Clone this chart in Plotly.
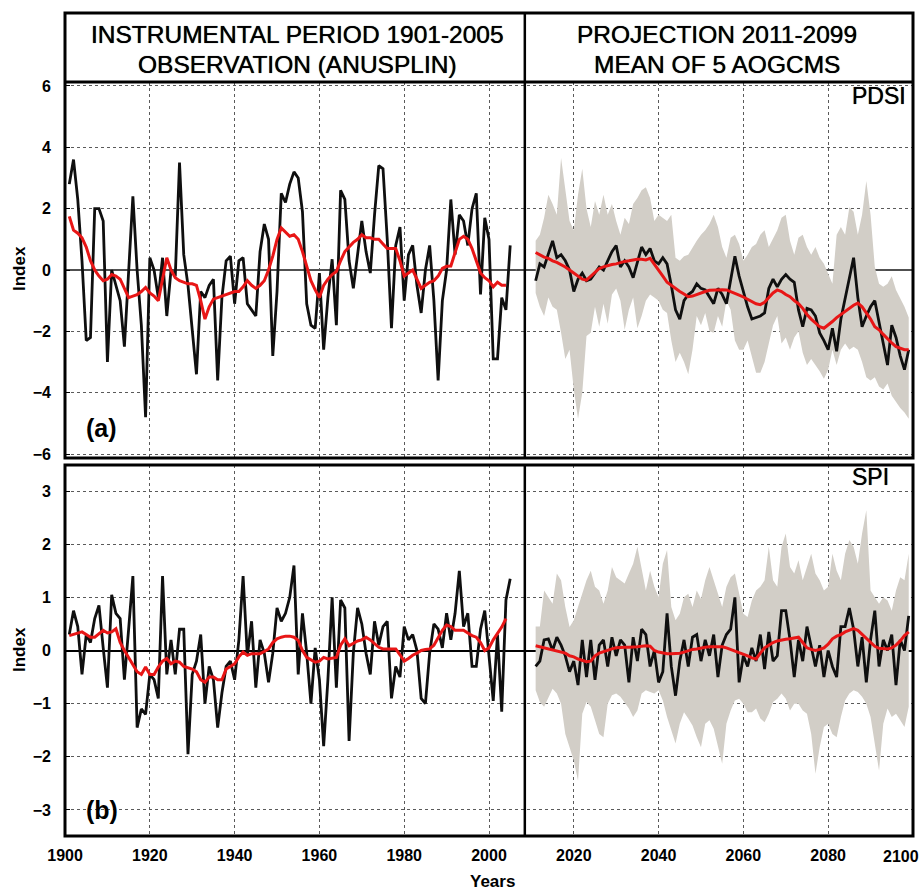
import plotly.graph_objects as go

W, H = 921, 891

# ---------------- data ----------------
years_obs = list(range(1901, 2006))
years_proj = list(range(2011, 2100))

pdsi_obs = [2.8, 3.6, 2.3, 0.3, -2.3, -2.2, 2.0, 2.0, 1.6, -3.0,
            0.0, -0.5, -1.0, -2.5, 0.0, 2.4, 0.0, -1.8, -4.8, 0.4,
            0.0, -0.9, 0.4, -1.5, 0.0, -0.2, 3.5, 0.5, -0.5, -2.0,
            -3.4, -0.7, -0.9, -0.5, -0.3, -3.6, -0.9, 0.3, 0.45, -1.1,
            0.3, 0.4, -1.1, -1.3, -1.5, 0.6, 1.5, 1.0, -2.8, -0.7,
            2.5, 2.2, 2.8, 3.2, 3.0, 1.9, -1.1, -1.8, -1.9, -0.1,
            -2.6, -0.9, 0.35, -1.8, 2.6, 2.3, 0.3, -0.6, 0.5, 1.6,
            0.6, -0.1, 1.8, 3.4, 3.3, 1.0, -1.9, 0.8, 1.4, -1.0,
            0.5, 0.8, -0.5, -1.4, 0.0, 0.8, -1.0, -3.6, -1.0, 0.0,
            2.3, 0.5, 1.8, 1.6, 0.8, 2.0, 2.5, -0.8, 1.7, 1.0,
            -2.9, -2.9, -0.9, -1.3, 0.8]
pdsi_obs_smooth = [1.75, 1.3, 1.2, 1.05, 0.75, 0.3, 0.0, -0.2, -0.35, -0.3,
                   -0.15, -0.2, -0.3, -0.6, -0.9, -0.85, -0.8, -0.7, -0.57, -0.75,
                   -0.85, -1.0, -0.3, 0.4, 0.0, -0.25, -0.35, -0.4, -0.45, -0.45,
                   -0.5, -1.0, -1.6, -1.2, -0.95, -0.9, -0.85, -0.8, -0.75, -0.7,
                   -0.7, -0.55, -0.35, -0.5, -0.6, -0.5, -0.35, 0.0, 0.45, 1.0,
                   1.37, 1.25, 1.1, 1.15, 1.0, 0.6, 0.1, -0.35, -0.65, -0.9,
                   -0.5, -0.3, -0.15, -0.05, 0.3, 0.6, 0.75, 0.9, 1.0, 1.15,
                   1.05, 1.05, 1.0, 1.0, 0.85, 0.7, 0.7, 0.7, 0.3, -0.2,
                   -0.1, 0.0, -0.3, -0.6, -0.5, -0.4, -0.35, -0.2, 0.05, 0.12,
                   0.13, 0.6, 1.0, 1.1, 1.0, 0.7, 0.3, -0.1, -0.25, -0.35,
                   -0.55, -0.4, -0.5, -0.5]

pdsi_proj = [-0.35, 0.2, 0.1, 0.5, 0.95, 0.4, 0.5, 0.3, 0.0, -0.7,
             -0.3, -0.1, -0.35, -0.3, -0.1, 0.1, 0.0, 0.3, 0.6, 0.8,
             0.1, 0.3, 0.1, -0.25, 0.3, 0.75, 0.5, 0.7, 0.3, 0.2,
             0.4, 0.2, -0.5, -1.3, -1.6, -1.0, -0.8, -0.7, -0.45, -0.6,
             -0.65, -0.9, -1.1, -0.6, -0.8, -1.1, -0.3, 0.45, -0.2, -0.75,
             -1.2, -1.6, -1.55, -1.5, -1.4, -0.6, -0.3, -0.55, -0.3, -0.15,
             -0.3, -0.4, -1.3, -1.85, -1.25, -1.3, -1.5, -2.05, -2.3, -2.6,
             -1.9, -2.65, -1.6, -0.9, -0.2, 0.4, -0.9, -1.85, -1.5, -1.2,
             -1.0, -1.7, -2.4, -3.1, -1.8, -2.2, -2.8, -3.25, -2.6]
pdsi_proj_smooth = [0.57, 0.5, 0.42, 0.38, 0.3, 0.25, 0.18, 0.1, 0.0, -0.1,
                    -0.2, -0.3, -0.33, -0.2, -0.05, 0.05, 0.1, 0.15, 0.18, 0.2,
                    0.25, 0.28, 0.3, 0.33, 0.35, 0.35, 0.33, 0.38, 0.2, 0.0,
                    -0.2, -0.4, -0.5, -0.62, -0.7, -0.78, -0.87, -0.85, -0.8, -0.73,
                    -0.7, -0.66, -0.65, -0.63, -0.64, -0.65, -0.7, -0.75, -0.82, -0.88,
                    -0.95, -1.03, -1.1, -1.13, -1.05, -0.9, -0.75, -0.65, -0.7, -0.8,
                    -0.87, -1.0, -1.1, -1.25, -1.45, -1.6, -1.72, -1.85, -1.9, -1.8,
                    -1.68, -1.55, -1.45, -1.35, -1.25, -1.15, -1.08, -1.2, -1.4, -1.6,
                    -1.85, -1.95, -2.1, -2.25, -2.38, -2.5, -2.55, -2.6, -2.6]
pdsi_proj_max = [0.95, 1.15, 1.7, 2.45, 2.15, 1.8, 3.65, 2.6, 1.6, 1.3,
                 2.45, 3.3, 2.0, 1.4, 2.25, 1.8, 2.45, 1.8, 2.15, 1.6,
                 1.15, 1.7, 1.5, 2.15, 2.35, 2.6, 2.7, 2.35, 1.6, 1.8,
                 1.7, 1.6, 1.8, 0.4, 0.3, 0.45, 0.5, 0.75, 0.95, 1.15,
                 1.3, 1.5, 1.8, 1.4, 0.75, 0.4, 1.05, 1.15, 0.85, 0.3,
                 0.5, 0.75, 0.85, 1.15, 1.3, 0.75, 1.05, 1.3, 1.7, 1.8,
                 0.95, 0.5, 1.05, 1.15, 0.75, 0.5, 0.75, 0.4, 0.2, -0.15,
                 -0.45, 1.15, 1.4, 1.15, 2.05, 1.9, 1.15, 1.8, 2.9, 1.8,
                 0.1, -0.45, -0.55, -0.45, -0.2, -0.65, -0.9, -1.2, -1.55]
pdsi_proj_min = [-0.75, -1.2, -1.5, -0.9, -1.2, -1.3, -2.05, -2.9, -2.6, -3.9,
                 -4.85, -4.0, -2.15, -2.05, -1.2, -1.85, -1.1, -1.75, -0.8, -0.6,
                 -1.0, -1.95, -1.3, -0.9, -1.9, -1.5, -1.0, -0.8, -0.9, -1.0,
                 -1.3, -1.4, -2.3, -3.0, -2.7, -3.0, -3.4, -2.6, -1.5, -1.8,
                 -1.4, -2.0, -2.05, -1.5, -1.85, -1.0, -1.3, -2.3, -2.6, -2.6,
                 -2.3, -2.8, -3.35, -3.35, -3.0, -2.4, -1.8, -1.5, -2.4, -2.2,
                 -2.6, -2.2, -2.0, -2.7, -3.1, -2.9, -3.1, -3.3, -3.55, -3.25,
                 -2.6, -3.1, -2.6, -2.4, -2.6, -2.5, -2.6, -3.0, -3.5, -3.6,
                 -3.5, -3.8, -3.9, -3.7, -4.1, -4.3, -4.5, -4.65, -4.85]

spi_obs = [0.3, 0.75, 0.45, -0.45, 0.3, 0.15, 0.6, 0.85, 0.05, -0.7,
           1.05, 0.7, 0.6, -0.55, 0.4, 1.4, -1.45, -1.1, -1.2, -0.45,
           -0.55, -0.9, 1.4, -0.45, 0.2, -0.45, 0.4, 0.4, -1.95, -0.45,
           -0.2, 0.3, -1.0, -0.3, -0.55, -1.45, -0.8, -0.3, -0.2, -0.55,
           0.2, 1.4, -0.1, 0.55, -0.7, 0.2, -0.05, -0.6, -0.05, 0.8,
           0.55, 0.7, 1.0, 1.6, -0.45, 0.7, -0.05, -1.0, 0.05, -0.55,
           -1.8, -0.55, 1.0, -0.7, 0.95, 0.8, -1.7, -0.05, 0.8, 0.5,
           -0.05, -0.45, 0.55, 0.1, 0.45, 0.55, -0.9, -0.3, -0.5, 0.45,
           0.2, 0.3, 0.0, -0.9, -1.0, -0.05, 0.5, 0.4, 0.05, 0.7,
           0.2, 0.7, 1.5, 0.45, 0.7, -0.3, -0.3, 0.4, 0.75, -0.05,
           -0.95, 0.3, -1.15, 0.95, 1.35]
spi_obs_smooth = [0.28, 0.3, 0.33, 0.35, 0.3, 0.25, 0.25, 0.32, 0.38, 0.33,
                  0.35, 0.41, 0.15, 0.0, -0.13, -0.25, -0.4, -0.45, -0.31, -0.45,
                  -0.45, -0.31, -0.2, -0.15, -0.25, -0.2, -0.22, -0.3, -0.32, -0.35,
                  -0.4, -0.55, -0.6, -0.5, -0.5, -0.55, -0.55, -0.35, -0.3, -0.25,
                  -0.12, -0.03, -0.09, -0.06, -0.06, -0.06, -0.02, 0.03, 0.15, 0.22,
                  0.25, 0.27, 0.27, 0.25, 0.19, 0.0, -0.13, -0.18, -0.22, -0.2,
                  -0.13, -0.16, -0.14, -0.13, 0.1, 0.22, 0.09, 0.14, 0.18, 0.2,
                  0.25, 0.2, 0.12, 0.06, 0.03, 0.03, 0.03, 0.03, -0.08, -0.2,
                  -0.15, -0.09, -0.05, 0.0, 0.02, 0.03, 0.1, 0.25, 0.38, 0.48,
                  0.45, 0.38, 0.38, 0.38, 0.33, 0.28, 0.25, 0.15, 0.0, 0.05,
                  0.2, 0.31, 0.44, 0.6]

spi_proj = [-0.3, -0.2, 0.2, 0.22, 0.0, 0.25, 0.1, -0.1, -0.4, -0.2,
            -0.65, 0.2, -0.5, 0.2, -0.55, 0.1, 0.2, -0.3, 0.25, -0.1,
            0.2, 0.1, -0.6, 0.25, -0.2, 0.4, 0.3, -0.3, 0.0, -0.6,
            -0.4, 0.7, -0.3, -0.85, -0.2, 0.2, -0.3, 0.25, 0.3, -0.2,
            0.2, -0.1, 0.3, -0.5, 0.1, 0.3, 0.4, 1.0, -0.6, -0.1,
            -0.3, 0.05, -0.2, 0.3, -0.35, 0.35, -0.2, -0.1, 0.75, 0.75,
            0.2, -0.5, 0.2, -0.2, 0.45, 0.1, -0.3, 0.1, -0.5, 0.0,
            -0.3, -0.5, 0.45, 0.45, 0.8, 0.4, -0.3, 0.25, -0.6, 0.2,
            0.75, -0.3, 0.2, 0.0, 0.3, -0.65, 0.2, 0.0, 0.65]
spi_proj_smooth = [0.09, 0.07, 0.05, 0.03, 0.02, 0.0, -0.02, -0.05, -0.1, -0.12,
                   -0.16, -0.19, -0.21, -0.2, -0.1, -0.05, -0.02, 0.0, 0.03, 0.05,
                   0.06, 0.06, 0.06, 0.06, 0.07, 0.08, 0.09, 0.08, 0.0, -0.03,
                   -0.05, -0.06, -0.06, -0.06, -0.05, -0.03, 0.0, 0.02, 0.03, 0.05,
                   0.06, 0.07, 0.07, 0.08, 0.07, 0.05, 0.02, 0.0, -0.03, -0.06,
                   -0.1, -0.14, -0.16, -0.05, 0.05, 0.1, 0.15, 0.18, 0.2, 0.21,
                   0.22, 0.24, 0.25, 0.15, 0.05, 0.02, 0.0, 0.02, 0.05, 0.12,
                   0.22, 0.27, 0.3, 0.35, 0.38, 0.41, 0.38, 0.3, 0.22, 0.15,
                   0.08, 0.04, 0.03, 0.03, 0.05, 0.1, 0.18, 0.28, 0.35]
spi_proj_max = [0.45, 0.45, 1.13, 1.0, 0.88, 1.45, 1.32, 0.82, 0.44, 0.57,
                0.82, 1.07, 1.32, 1.5, 1.2, 1.13, 0.88, 1.13, 1.57, 1.38,
                1.32, 1.26, 1.45, 1.63, 1.95, 1.57, 1.13, 1.5, 1.2, 1.0,
                1.63, 1.89, 0.82, 0.57, 0.69, 1.0, 1.07, 0.82, 1.13, 0.97,
                1.32, 1.57, 1.32, 1.07, 0.82, 1.2, 1.38, 1.45, 1.07, 0.69,
                0.63, 0.94, 1.13, 1.2, 1.32, 1.95, 1.32, 1.2, 1.95, 2.2,
                1.57, 1.45, 1.7, 1.32, 1.57, 1.82, 1.45, 1.32, 1.13, 1.2,
                1.82, 1.5, 1.32, 1.82, 2.08, 1.95, 1.63, 2.2, 2.64, 1.13,
                1.0, 0.88, 1.0, 0.94, 0.75, 1.13, 1.38, 1.32, 1.82]
spi_proj_min = [-0.75, -0.97, -1.06, -0.9, -0.72, -0.81, -1.0, -1.57, -1.82, -2.07,
                -2.45, -1.19, -0.97, -1.06, -1.31, -1.57, -1.63, -1.0, -0.84, -0.81,
                -0.87, -0.97, -1.09, -1.25, -1.13, -0.81, -0.75, -0.78, -0.81, -0.75,
                -0.94, -1.25, -1.5, -1.75, -1.38, -1.16, -1.28, -1.41, -1.63, -1.82,
                -1.38, -1.31, -1.47, -1.82, -2.13, -1.38, -1.13, -0.94, -0.91, -1.0,
                -1.16, -1.16, -1.09, -1.28, -1.35, -1.19, -0.97, -0.91, -0.81, -0.91,
                -1.13, -1.0, -1.0, -1.13, -1.19, -1.57, -2.32, -1.82, -1.44, -1.38,
                -1.57, -1.63, -1.25, -0.94, -0.81, -0.75, -0.78, -0.87, -1.0, -1.25,
                -1.75, -2.26, -1.38, -1.09, -1.25, -1.19, -1.31, -1.44, -1.06]

x_ticks = [1900, 1920, 1940, 1960, 1980, 2000, 2020, 2040, 2060, 2080, 2100]
pdsi_ticks = [-6, -4, -2, 0, 2, 4, 6]
spi_ticks = [-3, -2, -1, 0, 1, 2, 3]
divider_year = 2008.45

header_left = ["INSTRUMENTAL PERIOD 1901-2005", "OBSERVATION (ANUSPLIN)"]
header_right = ["PROJECTION 2011-2099", "MEAN OF 5 AOGCMS"]

# ---------------- styles ----------------
FONT = "Liberation Sans, Arial, sans-serif"
BAND = "rgb(210,206,199)"
RED = "rgb(232,22,22)"
BLACK = "rgb(15,15,15)"
GRID = "rgb(90,90,90)"
HEAVY = "0px 0px 0.7px black"


def px(x):
    return x / W


def py(y):
    return 1 - y / H


fig = go.Figure()


def add_panel(xa, ya, yrs_o, obs, obs_s, yrs_p, pmin, pmax, proj, proj_s):
    fig.add_trace(go.Scatter(x=yrs_p, y=pmin, mode="lines", line=dict(width=0, color=BAND),
                             xaxis=xa, yaxis=ya, hoverinfo="skip", showlegend=False))
    fig.add_trace(go.Scatter(x=yrs_p, y=pmax, mode="lines", line=dict(width=0, color=BAND),
                             fill="tonexty", fillcolor=BAND,
                             xaxis=xa, yaxis=ya, hoverinfo="skip", showlegend=False))
    for xs, ys in ((yrs_o, obs), (yrs_p, proj)):
        fig.add_trace(go.Scatter(x=xs, y=ys, mode="lines", line=dict(width=2.8, color=BLACK),
                                 xaxis=xa, yaxis=ya, showlegend=False))
    for xs, ys in ((yrs_o[:len(obs_s)], obs_s), (yrs_p, proj_s)):
        fig.add_trace(go.Scatter(x=xs, y=ys, mode="lines", line=dict(width=3, color=RED),
                                 xaxis=xa, yaxis=ya, showlegend=False))


add_panel("x", "y", years_obs, pdsi_obs, pdsi_obs_smooth, years_proj,
          pdsi_proj_min, pdsi_proj_max, pdsi_proj, pdsi_proj_smooth)
add_panel("x2", "y2", years_obs, spi_obs, spi_obs_smooth, years_proj,
          spi_proj_min, spi_proj_max, spi_proj, spi_proj_smooth)

tickfont = dict(family=FONT, size=16, color="black", weight="bold")
xcommon = dict(range=[1899.99, 2100.01], tickvals=x_ticks[:-1], showgrid=True, gridcolor=GRID,
               griddash="dot", gridwidth=1, zeroline=False, showline=False,
               ticks="", tickfont=tickfont, domain=[px(65), px(913)], automargin=False)
fig.update_layout(
    width=W, height=H, margin=dict(l=0, r=0, t=0, b=0),
    paper_bgcolor="white", plot_bgcolor="white",
    xaxis=dict(**xcommon, anchor="y", showticklabels=False),
    xaxis2=dict(**xcommon, anchor="y2", showticklabels=True, ticklabelstandoff=8),
    yaxis=dict(range=[-6.13, 6.13], domain=[py(458), py(82)], tickvals=pdsi_ticks,
               showgrid=True, gridcolor=GRID, griddash="dot", gridwidth=1,
               zeroline=True, zerolinecolor="rgb(80,80,80)", zerolinewidth=1.5,
               ticks="inside", ticklen=5, tickcolor="black", tickfont=tickfont,
               ticklabelstandoff=13, anchor="x", automargin=False),
    yaxis2=dict(range=[-3.49, 3.49], domain=[py(836), py(465)], tickvals=spi_ticks,
                showgrid=True, gridcolor=GRID, griddash="dot", gridwidth=1,
                zeroline=True, zerolinecolor="black", zerolinewidth=1.5,
                ticks="inside", ticklen=5, tickcolor="black", tickfont=tickfont,
                ticklabelstandoff=13, anchor="x2", automargin=False),
)

# frames
shapes = []
lw = 3
shapes.append(dict(type="rect", xref="paper", yref="paper", x0=px(65), x1=px(913),
                   y0=py(458), y1=py(13), line=dict(color="black", width=lw)))
shapes.append(dict(type="line", xref="paper", yref="paper", x0=px(65), x1=px(913),
                   y0=py(82), y1=py(82), line=dict(color="black", width=lw)))
shapes.append(dict(type="rect", xref="paper", yref="paper", x0=px(65), x1=px(913),
                   y0=py(836), y1=py(465), line=dict(color="black", width=lw)))
shapes.append(dict(type="line", xref="x", yref="paper", x0=divider_year, x1=divider_year,
                   y0=py(458), y1=py(13), line=dict(color="black", width=2.5)))
shapes.append(dict(type="line", xref="x2", yref="paper", x0=divider_year, x1=divider_year,
                   y0=py(836), y1=py(465), line=dict(color="black", width=2.5)))
fig.update_layout(shapes=shapes)

hfont = dict(family=FONT, size=24.5, color="black", shadow=HEAVY)
ann = []
for i, t in enumerate(header_left):
    ann.append(dict(text=t, x=px(297), y=py(34 + i * 30), xref="paper", yref="paper",
                    showarrow=False, font=hfont, xanchor="center", yanchor="middle"))
for i, t in enumerate(header_right):
    ann.append(dict(text=t, x=px(717), y=py(34 + i * 30), xref="paper", yref="paper",
                    showarrow=False, font=hfont, xanchor="center", yanchor="middle"))
# last x tick label sits at the right edge of the frame (right-aligned there)
ann.append(dict(text=str(x_ticks[-1]), x=x_ticks[-1], xref="x2", y=py(836), yref="paper",
                yshift=-10, showarrow=False, font=tickfont, xanchor="right", yanchor="top",
                xshift=8))
ann.append(dict(text="PDSI", x=px(908), y=py(96), xref="paper", yref="paper", showarrow=False,
                font=dict(family=FONT, size=23, color="black", shadow=HEAVY),
                xanchor="right", yanchor="middle"))
ann.append(dict(text="SPI", x=px(891), y=py(477), xref="paper", yref="paper", showarrow=False,
                font=dict(family=FONT, size=23, color="black", shadow=HEAVY),
                xanchor="right", yanchor="middle"))
ann.append(dict(text="(a)", x=px(84), y=py(428), xref="paper", yref="paper", showarrow=False,
                font=dict(family=FONT, size=25, color="black", weight="bold"),
                xanchor="left", yanchor="middle"))
ann.append(dict(text="(b)", x=px(84), y=py(810), xref="paper", yref="paper", showarrow=False,
                font=dict(family=FONT, size=25, color="black", weight="bold"),
                xanchor="left", yanchor="middle"))
for yc in (269, 650):
    ann.append(dict(text="Index", x=px(19), y=py(yc), xref="paper", yref="paper", showarrow=False,
                    textangle=-90, font=dict(family=FONT, size=17, color="black", weight="bold"),
                    xanchor="center", yanchor="middle"))
ann.append(dict(text="Years", x=px(492), y=py(881), xref="paper", yref="paper", showarrow=False,
                font=dict(family=FONT, size=17, color="black", weight="bold"),
                xanchor="center", yanchor="middle"))
fig.update_layout(annotations=ann)

fig.write_html("out.html")
